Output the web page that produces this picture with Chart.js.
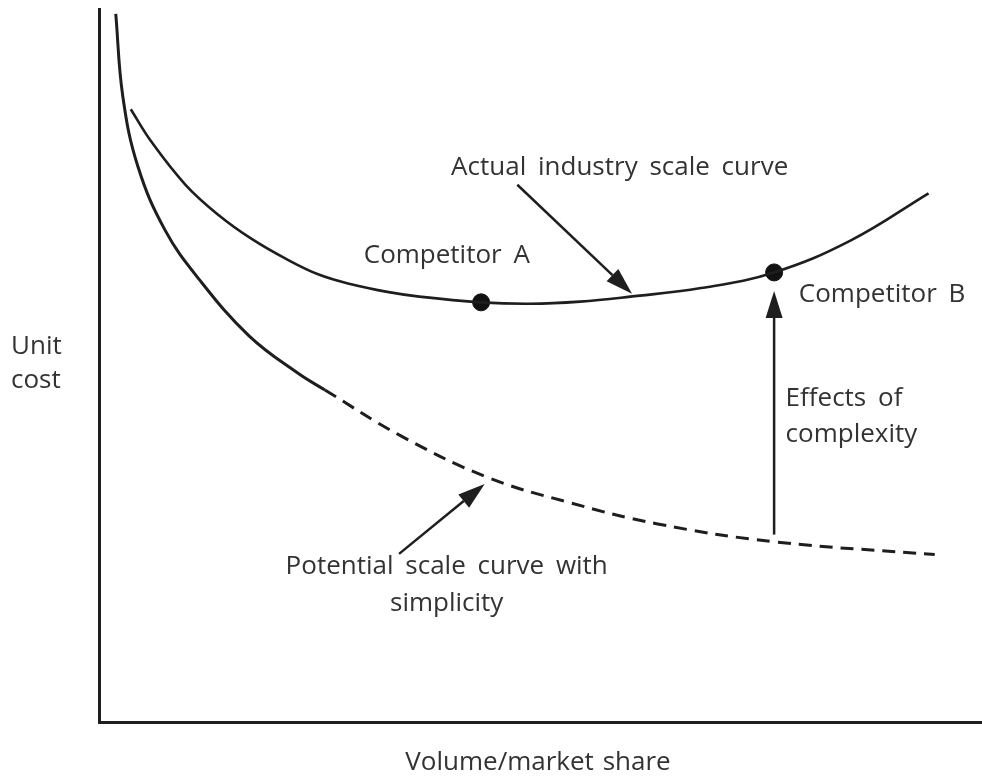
<!DOCTYPE html>
<html>
<head>
<meta charset="utf-8">
<script src="https://cdn.jsdelivr.net/npm/chart.js@4.4.1/dist/chart.umd.min.js"></script>
<style>
  html, body { margin: 0; padding: 0; background: #fff; overflow: hidden; }
  #wrap { width: 991px; height: 778px; position: relative; }
</style>
</head>
<body>
<div id="wrap"><canvas id="scaleChart"></canvas></div>
<script>
// Curvas (unidades arbitrárias: volume 0-100, custo 0-100)
const actualX = [3.6, 5.9, 9.8, 13.5, 17.3, 21.2, 24.9, 28.7, 32.5, 36.3, 43.3, 48.8, 54.5, 60.2, 68.2, 76.5, 85.2, 94.0];
const actualY = [86.0, 81.5, 75.4, 71.2, 67.8, 65.0, 62.8, 61.4, 60.4, 59.7, 58.9, 58.7, 59.0, 59.7, 60.9, 63.1, 67.6, 74.2];

const potentialX = [1.9, 2.7, 4.4, 7.5, 11.3, 17.0, 22.6, 25.6, 34.0, 43.9, 53.0, 63.3, 76.5, 94.7];
const potentialY = [99.4, 87.8, 78.0, 69.0, 62.2, 54.2, 48.9, 46.6, 40.3, 34.4, 30.9, 27.8, 25.3, 23.5];
const solidUntil = 25.6; // daqui em diante a curva potencial é tracejada

const competitorNames = ['Competitor A', 'Competitor B'];
const competitorX = [43.3, 76.5];
const competitorY = [58.9, 63.1];

const toPoints = (xs, ys) => xs.map((x, i) => ({ x: x, y: ys[i] }));

// Setas e textos em coordenadas de dados
const arrows = [
    { from: [47.4, 75.4], to: [60.4, 60.1] },
    { from: [34.0, 23.6], to: [43.7, 33.4] },
    { from: [76.5, 26.3], to: [76.5, 60.5] }
];
const notes = [
    { text: 'Actual industry scale curve', x: 39.9, y: 77.8, align: 'left' },
    { text: 'Competitor A', x: 30.0, y: 65.4, align: 'left' },
    { text: 'Competitor B', x: 79.3, y: 60.0, align: 'left' },
    { text: 'Effects of', x: 77.8, y: 45.4, align: 'left' },
    { text: 'complexity', x: 77.8, y: 40.3, align: 'left' },
    { text: 'Potential scale curve with', x: 39.4, y: 21.8, align: 'center' },
    { text: 'simplicity', x: 39.4, y: 16.6, align: 'center' }
];

const FONT = '26px "Open Sans", sans-serif';
const INK = '#1e1e1e';
const TEXT = '#333';

const annotations = {
    id: 'annotations',
    afterDatasetsDraw(chart) {
        const ctx = chart.ctx;
        const xs = chart.scales.x, ys = chart.scales.y;
        ctx.save();
        // setas
        ctx.strokeStyle = INK;
        ctx.fillStyle = INK;
        ctx.lineWidth = 2.5;
        arrows.forEach(a => {
            const x1 = xs.getPixelForValue(a.from[0]), y1 = ys.getPixelForValue(a.from[1]);
            const x2 = xs.getPixelForValue(a.to[0]), y2 = ys.getPixelForValue(a.to[1]);
            const ang = Math.atan2(y2 - y1, x2 - x1);
            const len = 27, half = 8.5;
            const bx = x2 - len * Math.cos(ang), by = y2 - len * Math.sin(ang);
            ctx.beginPath();
            ctx.moveTo(x1, y1);
            ctx.lineTo(bx, by);
            ctx.stroke();
            ctx.beginPath();
            ctx.moveTo(x2, y2);
            ctx.lineTo(bx + half * Math.sin(ang), by - half * Math.cos(ang));
            ctx.lineTo(bx - half * Math.sin(ang), by + half * Math.cos(ang));
            ctx.closePath();
            ctx.fill();
        });
        // textos
        ctx.font = FONT;
        ctx.fillStyle = TEXT;
        ctx.textBaseline = 'middle';
        if ('wordSpacing' in ctx) ctx.wordSpacing = '5px';
        notes.forEach(n => {
            ctx.textAlign = n.align;
            ctx.fillText(n.text, xs.getPixelForValue(n.x), ys.getPixelForValue(n.y));
        });
        // títulos dos eixos
        const area = chart.chartArea;
        ctx.textAlign = 'left';
        ctx.fillText('Unit', 11, 347);
        ctx.fillText('cost', 11, 381);
        ctx.textAlign = 'center';
        if ('wordSpacing' in ctx) ctx.wordSpacing = '2px';
        ctx.fillText('Volume/market share', 538, area.bottom + 41);
        ctx.restore();
    }
};

const chartCanvas = document.getElementById('scaleChart');
new Chart(chartCanvas.getContext('2d'), {
    type: 'line',
    data: {
        datasets: [
            {
                label: 'Actual industry scale curve',
                data: toPoints(actualX, actualY),
                borderColor: INK,
                borderWidth: 2.6,
                pointRadius: 0,
                tension: 0.4
            },
            {
                label: 'Potential scale curve with simplicity',
                data: toPoints(potentialX, potentialY),
                borderColor: INK,
                borderWidth: 3,
                pointRadius: 0,
                tension: 0.4,
                segment: {
                    borderDash: c => c.p0.parsed.x >= solidUntil ? [13, 8] : undefined
                }
            },
            {
                label: 'Competitors',
                type: 'scatter',
                data: toPoints(competitorX, competitorY),
                backgroundColor: '#111',
                borderColor: '#111',
                pointRadius: 8.5,
                showLine: false
            }
        ]
    },
    options: {
        responsive: true,
        maintainAspectRatio: false,
        animation: false,
        events: [],
        layout: { padding: { left: 99, right: 0, top: 8, bottom: 56 } },
        plugins: { legend: { display: false }, tooltip: { enabled: false } },
        scales: {
            x: {
                type: 'linear', min: 0, max: 100,
                ticks: { display: false },
                grid: { drawOnChartArea: false, drawTicks: false },
                border: { display: true, width: 3, color: INK }
            },
            y: {
                min: 0, max: 100,
                ticks: { display: false },
                grid: { drawOnChartArea: false, drawTicks: false },
                border: { display: true, width: 3, color: INK }
            }
        }
    },
    plugins: [annotations]
});
</script>
</body>
</html>
